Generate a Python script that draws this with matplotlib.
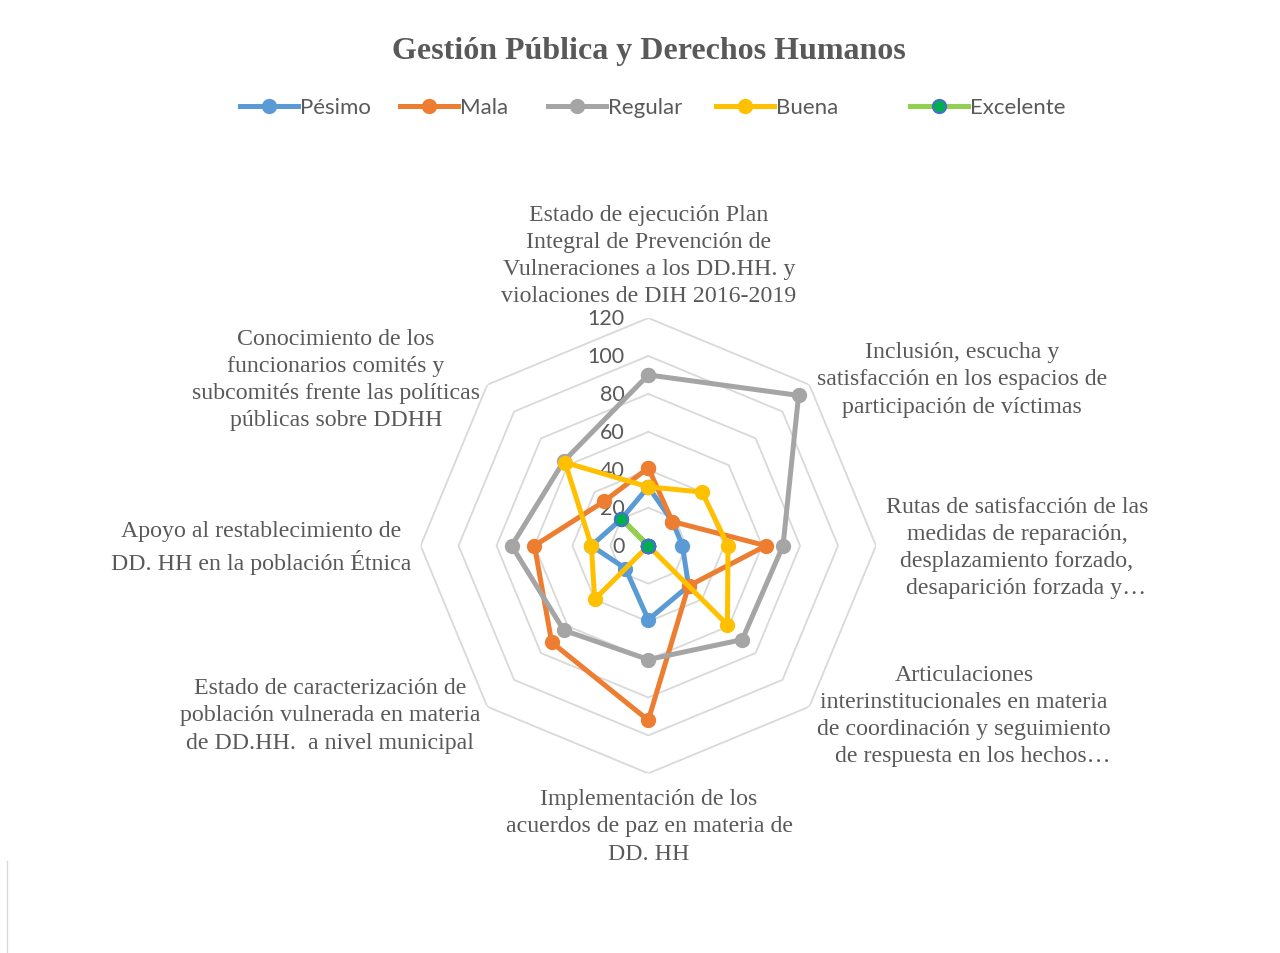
import numpy as np
import matplotlib
matplotlib.use("Agg")
import matplotlib.pyplot as plt
from matplotlib.lines import Line2D
from matplotlib.transforms import offset_copy

categorias = [
    "Estado de ejecución Plan\nIntegral de Prevención de\nVulneraciones a los DD.HH. y\nviolaciones de DIH 2016-2019",
    "Inclusión, escucha y\nsatisfacción en los espacios de\nparticipación de víctimas",
    "Rutas de satisfacción de las\nmedidas de reparación,\ndesplazamiento forzado,\n   desaparición forzada y…",
    "Articulaciones\ninterinstitucionales en materia\nde coordinación y seguimiento\n   de respuesta en los hechos…",
    "Implementación de los\nacuerdos de paz en materia de\nDD. HH",
    "Estado de caracterización de\npoblación vulnerada en materia\nde DD.HH.  a nivel municipal",
    "Apoyo al restablecimiento de\nDD. HH en la población Étnica",
    "Conocimiento de los\nfuncionarios comités y\nsubcomités frente las políticas\npúblicas sobre DDHH",
]

pesimo = [31, 18, 18, 30, 39, 17, 30, 20]
mala = [41, 18, 62, 30, 92, 72, 60, 33]
regular = [90, 112, 71, 70, 60, 63, 72, 63]
buena = [31, 40, 42, 59, 0, 40, 30, 62]
excelente = [0, 0, 0, 0, 0, 0, 0, 20]

series = ["Pésimo", "Mala", "Regular", "Buena", "Excelente"]
valores = [pesimo, mala, regular, buena, excelente]
ticks = [0, 20, 40, 60, 80, 100, 120]

colores = ["#5B9BD5", "#ED7D31", "#A5A5A5", "#FFC000", "#92D050"]
relleno = ["#5B9BD5", "#ED7D31", "#A5A5A5", "#FFC000", "#00B050"]
borde = ["#5B9BD5", "#ED7D31", "#A5A5A5", "#FFC000", "#4472C4"]

W, H = 1280, 954
fig = plt.figure(figsize=(W / 100, H / 100), dpi=100)

cx, cy, R = 648.3, 546.7, 227.7
ax = fig.add_axes([(cx - R) / W, (H - cy - R) / H, 2 * R / W, 2 * R / H], polar=True)
ax.set_theta_zero_location("N")
ax.set_theta_direction(-1)
ax.set_ylim(0, ticks[-1])
ax.grid(False)
ax.spines["polar"].set_visible(False)
ax.set_xticks([])
ax.set_yticks([])
ax.patch.set_alpha(0)

n = len(categorias)
ang = np.linspace(0, 2 * np.pi, n, endpoint=False)
ang_c = np.append(ang, ang[0])

# anillos octogonales
for t in ticks[1:]:
    ax.plot(ang_c, [t] * (n + 1), color="#D9D9D9", lw=1.3, zorder=1)

for i, (nom, vals) in enumerate(zip(series, valores)):
    v = vals + vals[:1]
    ax.plot(ang_c, v, color=colores[i], lw=3.6, marker="o", ms=9.5,
            mfc=relleno[i], mec=borde[i], mew=1.5, zorder=3 + i, clip_on=False)

# etiquetas del eje radial
trans = offset_copy(ax.transData, fig=fig, x=-24, y=0, units="dots")
for t in ticks:
    ax.text(0, t, str(t), transform=trans, ha="right", va="center",
            fontsize=15.5, color="#595959", family="Lato", zorder=2)

# etiquetas de categorias
pos_lab = [(649, 256), (962, 380), (1017, 548), (964, 716),
           (649, 827), (330, 716), (261, 548), (336, 380)]
for txt, (x, y) in zip(categorias, pos_lab):
    fig.text(x / W, 1 - y / H, txt, ha="center", va="center", fontsize=17.2,
             color="#595959", family="Liberation Serif", linespacing=1.38)

fig.text(649 / W, 1 - 51 / H, "Gestión Pública y Derechos Humanos", ha="center",
         va="center", fontsize=23, fontweight="bold", color="#595959",
         family="Liberation Serif")

# leyenda
leg_x = [240, 400, 548, 716, 910]
for i, nom in enumerate(series):
    x0 = leg_x[i]
    y = 1 - 107 / H
    fig.add_artist(Line2D([x0 / W, (x0 + 58) / W], [y, y], color=colores[i], lw=3.6))
    fig.add_artist(Line2D([(x0 + 29) / W], [y], marker="o", ms=9.5, mfc=relleno[i],
                          mec=borde[i], mew=1.5, color=colores[i]))
    fig.text((x0 + 60) / W, 1 - 108 / H, nom, ha="left", va="center", fontsize=16,
             color="#595959", family="Lato")

fig.add_artist(Line2D([7 / W, 7 / W], [0, 1 - 862 / H], color="#D9D9D9", lw=1))

fig.savefig("out.png", dpi=100)
